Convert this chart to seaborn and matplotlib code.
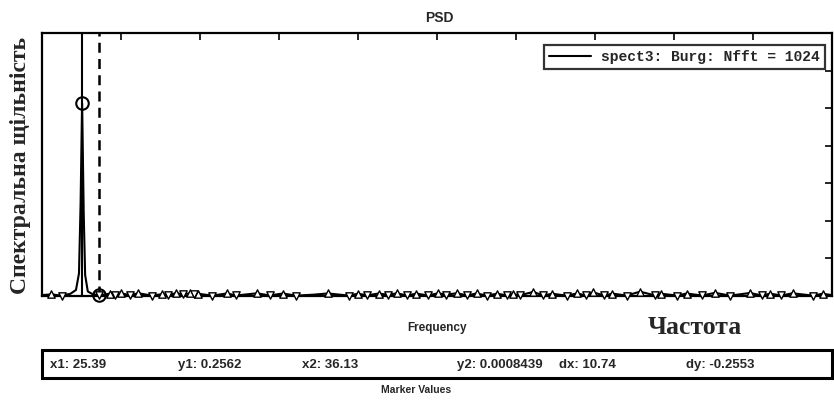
import numpy as np
import pandas as pd
import matplotlib
matplotlib.use("Agg")
import matplotlib.pyplot as plt
from matplotlib.patches import Rectangle
import seaborn as sns

# Burg PSD estimate (Fs = 1000 Hz, Nfft = 1024)
freq = [0, 6, 12.4, 18, 21.5, 23.4, 24.4, 25.39, 26.4, 27.3, 29, 32, 36.13,
        43, 46, 50, 56, 61, 69.5, 76, 80, 85, 89, 93.5, 96, 99, 107.6, 117,
        123, 136, 144, 152.5, 161, 172, 181, 194, 200, 206, 213, 219, 224.7,
        231, 237, 244, 250.6, 256, 262.6, 269, 275, 281.6, 288, 294, 298,
        302.5, 311, 317, 323, 332, 338.6, 344, 348.7, 356, 361, 370, 378.5,
        388, 392, 402, 408, 417.7, 426, 435.4, 448, 455.7, 460.8, 468, 475,
        488, 494, 500]
psd = [0.0012, 0.0022, 0.0004, 0.0030, 0.0080, 0.0300, 0.1200, 0.2562,
       0.1100, 0.0280, 0.0060, 0.0025, 0.0008439,
       0.0032, 0.0015, 0.0034, 0.0012, 0.0036, 0.0006, 0.0024, 0.0014,
       0.0038, 0.0022, 0.0035, 0.0020, 0.0030, 0.0005, 0.0034, 0.0007,
       0.0036, 0.0008, 0.0033, 0.0005, 0.0018, 0.0034, 0.0006, 0.0030,
       0.0010, 0.0033, 0.0016, 0.0036, 0.0007, 0.0032, 0.0008, 0.0035,
       0.0018, 0.0037, 0.0008, 0.0034, 0.0006, 0.0031, 0.0009, 0.0026,
       0.0010, 0.0055, 0.0007, 0.0030, 0.0005, 0.0034, 0.0009, 0.0048,
       0.0007, 0.0032, 0.0006, 0.0058, 0.0008, 0.0030, 0.0006, 0.0033,
       0.0007, 0.0042, 0.0005, 0.0040, 0.0008, 0.0031, 0.0007, 0.0036,
       0.0005, 0.0030, 0.0012]

# Marker readout
x1, y1 = 25.39, 0.2562
x2, y2 = 36.13, 0.0008439
readout = ["x1: 25.39", "y1: 0.2562", "x2: 36.13",
           "y2: 0.0008439", "dx: 10.74", "dy: -0.2553"]
readout_x = [50, 178, 302, 457, 559, 686]

xticks = np.arange(0, 501, 50)
yticks = np.arange(0, 0.351, 0.05)

df = pd.DataFrame({"f": freq, "p": psd})
p = df["p"].to_numpy()
is_max = np.r_[False, (p[1:-1] > p[:-2]) & (p[1:-1] > p[2:]), False] & (p < 0.01)
is_min = np.r_[False, (p[1:-1] < p[:-2]) & (p[1:-1] < p[2:]), False] & (p < 0.01)

sns.set_style("white")
plt.rcParams["font.family"] = ["Liberation Sans", "DejaVu Sans"]

W, H = 834, 400
fig = plt.figure(figsize=(W / 100, H / 100), dpi=100)
fig.patch.set_facecolor("white")

def fx(px):
    return px / W

def fy(py):
    return 1 - py / H

ax_l, ax_r, ax_t, ax_b = 42, 832, 33, 296
ax = fig.add_axes([fx(ax_l), fy(ax_b), fx(ax_r) - fx(ax_l), fy(ax_t) - fy(ax_b)])

sns.lineplot(data=df, x="f", y="p", ax=ax, color="black", linewidth=1.5,
             label="spect3: Burg: Nfft = 1024", sort=False)
sns.scatterplot(x=df["f"][is_max], y=df["p"][is_max], ax=ax, marker="^",
                s=28, facecolor="white", edgecolor="black", linewidth=1.0,
                clip_on=False, zorder=4, legend=False)
sns.scatterplot(x=df["f"][is_min], y=df["p"][is_min], ax=ax, marker="v",
                s=28, facecolor="white", edgecolor="black", linewidth=1.0,
                clip_on=False, zorder=4, legend=False)

# measurement markers
ax.axvline(x1, color="black", linewidth=1.5, zorder=3)
ax.axvline(x2, color="black", linewidth=1.8, linestyle=(0, (4, 2.5)), zorder=3)
ax.plot([x1, x2], [y1, y2], linestyle="none", marker="o", markersize=9,
        markerfacecolor="none", markeredgecolor="black", markeredgewidth=1.5,
        clip_on=False, zorder=5)

ax.set_xlim(0, 500)
ax.set_ylim(0, 0.35)
ax.set_xticks(xticks)
ax.set_yticks(yticks)
ax.tick_params(direction="in", length=5, width=1.4, top=True, right=True,
               labelbottom=False, labelleft=False)
for s in ax.spines.values():
    s.set_linewidth(1.6)
    s.set_color("black")
ax.set_xlabel("")
ax.set_ylabel("")

ax_w = ax_r - ax_l
ax_h = ax_b - ax_t
leg = ax.legend(loc="upper right",
                bbox_to_anchor=((825 - ax_l) / ax_w, 1 - (45 - ax_t) / ax_h),
                borderaxespad=0, frameon=True, fancybox=False,
                prop={"family": ["Liberation Mono", "DejaVu Sans Mono"],
                      "weight": "bold", "size": 10.5},
                handlelength=2.9, borderpad=0.35, handletextpad=0.7)
leg.get_frame().set_edgecolor("black")
leg.get_frame().set_linewidth(1.6)

fig.text(fx(439), fy(18), "PSD", ha="center", va="center",
         fontsize=10, fontweight="bold")
fig.text(fx(21), fy(165), "Спектральна щільність", rotation=90,
         ha="center", va="center", fontsize=17, fontweight="bold",
         family=["Liberation Serif", "DejaVu Serif"])
fig.text(fx(437), fy(328), "Frequency", ha="center", va="center",
         fontsize=8.5, fontweight="bold")
fig.text(fx(695), fy(327), "Частота", ha="center", va="center",
         fontsize=18.5, fontweight="bold",
         family=["Liberation Serif", "DejaVu Serif"])

fig.add_artist(Rectangle((fx(42), fy(378)), fx(832) - fx(42), fy(350) - fy(378),
                         transform=fig.transFigure, fill=False,
                         edgecolor="black", linewidth=2.2))
for txt, px in zip(readout, readout_x):
    fig.text(fx(px), fy(365), txt, ha="left", va="center",
             fontsize=9.5, fontweight="bold")
fig.text(fx(416), fy(390), "Marker Values", ha="center", va="center",
         fontsize=7.5, fontweight="bold")

fig.savefig("out.png", dpi=100, facecolor="white")
